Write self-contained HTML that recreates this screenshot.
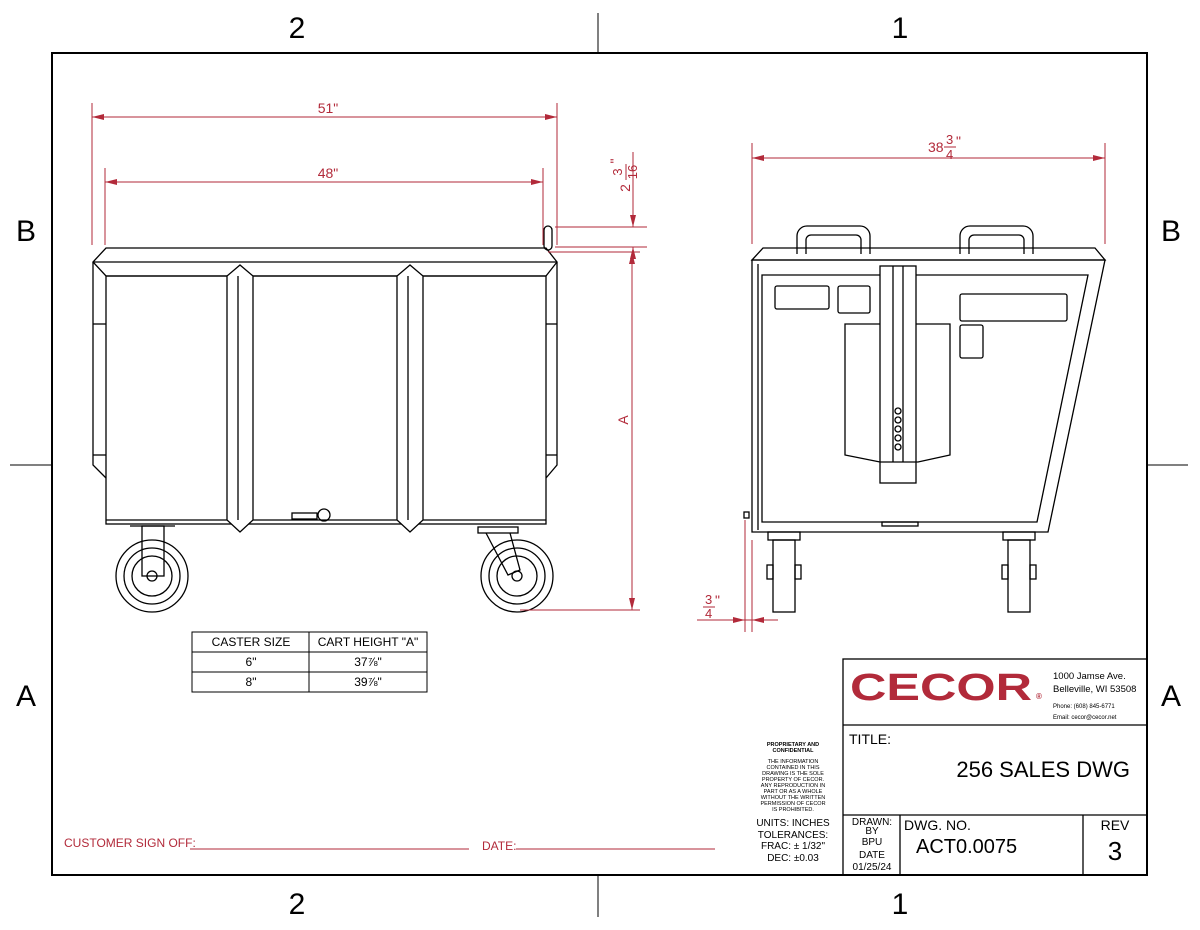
<!DOCTYPE html>
<html><head><meta charset="utf-8"><style>
html,body{margin:0;padding:0;background:#fff}
svg{display:block;font-family:"Liberation Sans",sans-serif}
</style></head><body>
<svg width="1200" height="930" viewBox="0 0 1200 930" xmlns="http://www.w3.org/2000/svg">
<rect width="1200" height="930" fill="#fff"/>
<rect x="52" y="53" width="1095" height="822" fill="none" stroke="#000" stroke-width="2"/>
<g stroke="#000" stroke-width="1">
<line x1="598" y1="13" x2="598" y2="53"/><line x1="598" y1="875" x2="598" y2="917"/>
<line x1="10" y1="465" x2="52" y2="465"/><line x1="1147" y1="465" x2="1188" y2="465"/>
</g>
<g font-size="30" fill="#000" text-anchor="middle">
<text x="297" y="38">2</text><text x="900" y="38">1</text>
<text x="297" y="914">2</text><text x="900" y="914">1</text>
<text x="26" y="241">B</text><text x="1171" y="241">B</text>
<text x="26" y="706">A</text><text x="1171" y="706">A</text>
</g>

<g fill="none" stroke="#000" stroke-width="1.3">
<path d="M106,248 L546,248 L557,262 L546,276 L106,276 L93,262 Z"/>
<line x1="93" y1="262" x2="557" y2="262"/>
<rect x="106" y="276" width="440" height="248"/>
<line x1="106" y1="520" x2="546" y2="520"/>
<path d="M93,262 L93,465 L106,478"/><path d="M93,324 L106,324"/><path d="M93,455 L106,455"/>
<path d="M557,262 L557,465 L546,478"/><path d="M557,324 L546,324"/><path d="M557,455 L546,455"/>
<path d="M227,276 L227,520 L240,532 L253,520 L253,276 L240,265 Z" fill="#fff"/>
<line x1="238" y1="276" x2="238" y2="520"/>
<path d="M397,276 L397,520 L410,532 L423,520 L423,276 L410,265 Z" fill="#fff"/>
<line x1="408" y1="276" x2="408" y2="520"/>
<rect x="292" y="513" width="25" height="6"/><circle cx="324" cy="515" r="6"/>
<rect x="142" y="526" width="22" height="50"/>
<line x1="130" y1="526" x2="175" y2="526"/>
<circle cx="152" cy="576" r="36"/><circle cx="152" cy="576" r="28"/><circle cx="152" cy="576" r="20"/><circle cx="152" cy="576" r="5"/>
<rect x="478" y="527" width="40" height="6"/>
<path d="M486,533 L508,575 L520,570 L510,533"/>
<circle cx="517" cy="576" r="36"/><circle cx="517" cy="576" r="28"/><circle cx="517" cy="576" r="20"/><circle cx="517" cy="576" r="5"/>
<rect x="544" y="226" width="8" height="24" rx="4"/>
</g>

<g stroke="#b22a3a" stroke-width="1" fill="none">
<line x1="92" y1="103" x2="92" y2="245"/><line x1="557" y1="103" x2="557" y2="245"/>
<line x1="92" y1="117" x2="557" y2="117"/>
<line x1="105" y1="168" x2="105" y2="245"/><line x1="543" y1="168" x2="543" y2="245"/>
<line x1="105" y1="182" x2="543" y2="182"/>
<line x1="555" y1="227" x2="647" y2="227"/><line x1="555" y1="247" x2="647" y2="247"/>
<line x1="633" y1="152" x2="633" y2="227"/><line x1="633" y1="247" x2="633" y2="262"/>
<line x1="548" y1="252" x2="640" y2="252"/><line x1="520" y1="610" x2="640" y2="610"/>
<line x1="632" y1="252" x2="632" y2="610"/>
</g>
<g fill="#b22a3a">
<path d="M92,117 l12,-3 v6z"/><path d="M557,117 l-12,-3 v6z"/>
<path d="M105,182 l12,-3 v6z"/><path d="M543,182 l-12,-3 v6z"/>
<path d="M633,227 l-3,-12 h6z"/><path d="M633,247 l-3,12 h6z"/>
<path d="M632,252 l-3,12 h6z"/><path d="M632,610 l-3,-12 h6z"/>
</g>
<g fill="#b22a3a" font-size="14" text-anchor="middle">
<text x="328" y="113">51"</text><text x="328" y="178">48"</text>
<text x="628" y="420" transform="rotate(-90 628 420)">A</text>
</g>
<g transform="translate(624,176) rotate(-90)" fill="#b22a3a" font-size="14" text-anchor="middle">
<text x="-12" y="6">2</text>
<text x="4" y="-2" font-size="13">3</text>
<text x="4" y="13" font-size="13">16</text>
<line x1="-4" y1="2" x2="12" y2="2" stroke="#b22a3a"/>
<text x="15" y="-4">"</text>
</g>

<g fill="none" stroke="#000" stroke-width="1">
<rect x="192" y="632" width="235" height="60"/>
<line x1="192" y1="652" x2="427" y2="652"/><line x1="192" y1="672" x2="427" y2="672"/>
<line x1="309" y1="632" x2="309" y2="692"/>
</g>
<g font-size="12" text-anchor="middle" fill="#000">
<text x="251" y="646">CASTER SIZE</text><text x="368" y="646">CART HEIGHT "A"</text>
<text x="251" y="666">6"</text><text x="368" y="666">37⅞"</text>
<text x="251" y="686">8"</text><text x="368" y="686">39⅞"</text>
</g>

<g fill="none" stroke="#000" stroke-width="1.3">
<path d="M797,254 V236 a10,10 0 0 1 10,-10 H860 a10,10 0 0 1 10,10 V254"/>
<path d="M806,254 V240 a5,5 0 0 1 5,-5 H856 a5,5 0 0 1 5,5 V254"/>
<path d="M960,254 V236 a10,10 0 0 1 10,-10 H1023 a10,10 0 0 1 10,10 V254"/>
<path d="M969,254 V240 a5,5 0 0 1 5,-5 H1019 a5,5 0 0 1 5,5 V254"/>
<path d="M763,248 L1095,248 L1105,260 L752,260 Z"/>
<path d="M752,260 L1105,260 L1048,532 L752,532 Z"/>
<path d="M762,275 L1088,275 L1037,522 L762,522 Z"/>
<line x1="758" y1="264" x2="758" y2="530"/>
<rect x="775" y="286" width="54" height="23" rx="2"/>
<rect x="838" y="286" width="32" height="27" rx="2"/>
<rect x="960" y="294" width="107" height="27" rx="2"/>
<rect x="960" y="325" width="23" height="33" rx="2"/>
<path d="M845,324 H950 V455 L918,462 H880 L845,455 Z"/>
<rect x="880" y="266" width="36" height="217" fill="#fff"/>
<line x1="893" y1="266" x2="893" y2="462"/><line x1="903" y1="266" x2="903" y2="462"/>
<line x1="880" y1="462" x2="916" y2="462"/>
<circle cx="898" cy="411" r="3"/><circle cx="898" cy="420" r="3"/><circle cx="898" cy="429" r="3"/><circle cx="898" cy="438" r="3"/><circle cx="898" cy="447" r="3"/>
<rect x="882" y="522" width="36" height="4"/>
<rect x="768" y="532" width="32" height="8"/><rect x="1003" y="532" width="32" height="8"/>
<rect x="773" y="540" width="22" height="72"/><rect x="1008" y="540" width="22" height="72"/>
<rect x="767" y="565" width="6" height="14"/><rect x="795" y="565" width="6" height="14"/>
<rect x="1002" y="565" width="6" height="14"/><rect x="1030" y="565" width="6" height="14"/>
<rect x="744" y="512" width="5" height="6"/>
</g>
<g stroke="#b22a3a" stroke-width="1" fill="none">
<line x1="752" y1="143" x2="752" y2="244"/><line x1="1105" y1="143" x2="1105" y2="244"/>
<line x1="752" y1="158" x2="1105" y2="158"/>
<line x1="745" y1="520" x2="745" y2="632"/><line x1="752" y1="540" x2="752" y2="632"/>
<line x1="697" y1="620" x2="778" y2="620"/>
</g>
<g fill="#b22a3a">
<path d="M752,158 l12,-3 v6z"/><path d="M1105,158 l-12,-3 v6z"/>
<path d="M745,620 l-12,-3 v6z"/><path d="M752,620 l12,-3 v6z"/>
</g>
<g fill="#b22a3a" font-size="14">
<text x="928" y="152">38</text><text x="946" y="144" font-size="13">3</text>
<text x="946" y="159" font-size="13">4</text><text x="956" y="146">"</text>
<text x="705" y="604" font-size="13">3</text><text x="705" y="618" font-size="13">4</text><text x="715" y="605">"</text>
</g>
<line x1="944" y1="147" x2="956" y2="147" stroke="#b22a3a"/>
<line x1="703" y1="607" x2="715" y2="607" stroke="#b22a3a"/>

<g fill="none" stroke="#000" stroke-width="1.3">
<rect x="843" y="659" width="304" height="216"/>
<line x1="843" y1="725" x2="1147" y2="725"/>
<line x1="843" y1="815" x2="1147" y2="815"/>
<line x1="900" y1="815" x2="900" y2="875"/>
<line x1="1083" y1="815" x2="1083" y2="875"/>
</g>
<text x="850" y="700" font-size="38" font-weight="bold" fill="#b22a3a" textLength="182" lengthAdjust="spacingAndGlyphs">CECOR</text>
<text x="1036" y="699" font-size="8" font-weight="bold" fill="#b22a3a">®</text>
<g fill="#000">
<text x="1053" y="679" font-size="9.5">1000 Jamse Ave.</text>
<text x="1053" y="692" font-size="9.5">Belleville, WI  53508</text>
<text x="1053" y="708" font-size="6">Phone: (608) 845-6771</text>
<text x="1053" y="719" font-size="6">Email: cecor@cecor.net</text>
<text x="849" y="744" font-size="14">TITLE:</text>
<text x="1130" y="777" font-size="22" text-anchor="end">256 SALES DWG</text>
<text x="904" y="830" font-size="14">DWG.  NO.</text>
<text x="916" y="853" font-size="20">ACT0.0075</text>
<text x="1115" y="830" font-size="14" text-anchor="middle">REV</text>
<text x="1115" y="860" font-size="26" text-anchor="middle">3</text>
<g font-size="10" text-anchor="middle">
<text x="872" y="825">DRAWN:</text><text x="872" y="834">BY</text><text x="872" y="845">BPU</text>
<text x="872" y="858">DATE</text><text x="872" y="870">01/25/24</text>
</g>
<g font-size="5.5" text-anchor="middle">
<text x="793" y="746" font-weight="bold">PROPRIETARY AND</text>
<text x="793" y="752" font-weight="bold">CONFIDENTIAL</text>
<text x="793" y="763">THE INFORMATION</text><text x="793" y="769">CONTAINED IN THIS</text>
<text x="793" y="775">DRAWING IS THE SOLE</text><text x="793" y="781">PROPERTY OF CECOR.</text>
<text x="793" y="787">ANY REPRODUCTION IN</text><text x="793" y="793">PART OR AS A WHOLE</text>
<text x="793" y="799">WITHOUT THE WRITTEN</text><text x="793" y="805">PERMISSION OF CECOR</text>
<text x="793" y="811">IS PROHIBITED.</text>
</g>
<g font-size="10" text-anchor="middle">
<text x="793" y="826">UNITS: INCHES</text><text x="793" y="838">TOLERANCES:</text>
<text x="793" y="849">FRAC: ± 1/32"</text><text x="793" y="861">DEC:  ±0.03</text>
</g>
</g>
<g fill="#b22a3a" font-size="12">
<text x="64" y="847">CUSTOMER SIGN OFF:</text><text x="482" y="850">DATE:</text>
</g>
<g stroke="#b22a3a" stroke-width="1">
<line x1="190" y1="849" x2="469" y2="849"/><line x1="516" y1="849" x2="715" y2="849"/>
</g>
</svg>
</body></html>
